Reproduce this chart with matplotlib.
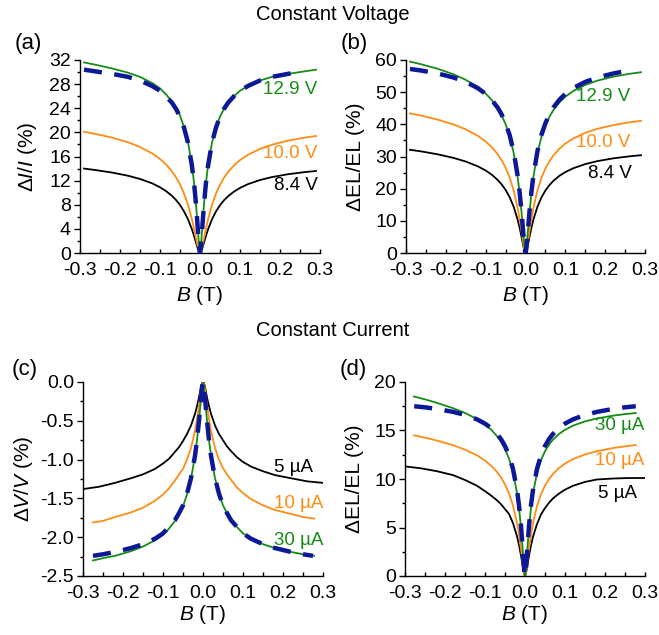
import matplotlib
matplotlib.use("Agg")
import matplotlib.pyplot as plt
from matplotlib.ticker import MultipleLocator, FormatStrFormatter

plt.rcParams['font.family'] = ['Liberation Sans', 'DejaVu Sans']
plt.rcParams['mathtext.fontset'] = 'custom'
plt.rcParams['mathtext.rm'] = 'Liberation Sans'
plt.rcParams['mathtext.it'] = 'Liberation Sans:italic'
plt.rcParams['lines.scale_dashes'] = False

# ---------------- data ----------------
B_top = [-0.29, -0.26, -0.22, -0.18, -0.15, -0.12, -0.1, -0.085, -0.07, -0.06, -0.05, -0.04, -0.03,
         -0.02, -0.015, -0.01, -0.005, -0.002, 0,
         0.002, 0.005, 0.01, 0.015, 0.02, 0.03, 0.04, 0.05, 0.06, 0.07, 0.085, 0.1, 0.12, 0.15,
         0.18, 0.22, 0.26, 0.29]
B_top_fit = [-0.29, -0.26, -0.22, -0.18, -0.15, -0.12, -0.1, -0.085, -0.07, -0.06, -0.05, -0.04, -0.03,
             -0.02, -0.015, -0.01, -0.005, -0.002, 0,
             0.002, 0.005, 0.01, 0.015, 0.02, 0.03, 0.04, 0.05, 0.06, 0.07, 0.085, 0.1, 0.12, 0.15,
             0.18, 0.22, 0.245]

# (a) Delta I / I (%), constant voltage
a_129 = [31.6, 31.2, 30.6, 29.9, 29.2, 28.2, 27.3, 26.3, 25.1, 24.1, 22.8, 20.9, 18.4, 14.4, 11.7, 8.1, 3.6, 0.9, 0,
         0.9, 3.6, 8.1, 11.7, 14.4, 18.3, 20.8, 22.6, 23.9, 24.9, 26.0, 26.9, 27.7, 28.6, 29.2, 29.7, 30.1, 30.4]
a_100 = [20.1, 19.73, 19.14, 18.36, 17.58, 16.53, 15.59, 14.68, 13.52, 12.56, 11.38, 9.85, 7.98, 5.54, 4.07, 2.46,
         0.89, 0.18, 0,
         0.18, 0.89, 2.46, 4.07, 5.54, 7.98, 9.85, 11.31, 12.47, 13.41, 14.53, 15.40, 16.29, 17.26, 17.96, 18.63,
         19.11, 19.40]
a_84 = [14.0, 13.74, 13.34, 12.81, 12.28, 11.56, 10.90, 10.27, 9.47, 8.79, 7.97, 6.90, 5.59, 3.89, 2.85, 1.73,
        0.62, 0.13, 0,
        0.13, 0.62, 1.73, 2.85, 3.89, 5.59, 6.90, 7.93, 8.74, 9.40, 10.18, 10.79, 11.42, 12.10, 12.59, 13.06,
        13.40, 13.60]
a_fit = [30.4, 30.1, 29.7, 29.2, 28.6, 27.7, 26.9, 26.0, 24.9, 23.9, 22.6, 20.8, 18.3, 14.4, 11.7, 8.1, 3.6, 0.9, 0,
         0.9, 3.6, 8.1, 11.7, 14.4, 18.3, 20.8, 22.6, 23.9, 24.9, 26.0, 26.9, 27.7, 28.6, 29.2, 29.7, 30.0]

# (b) Delta EL / EL (%), constant voltage
b_129 = [59.5, 58.62, 57.25, 55.52, 53.84, 51.59, 49.57, 47.61, 45.05, 42.84, 40.04, 36.36, 31.29, 23.91, 18.87,
         12.62, 5.28, 1.24, 0,
         1.24, 5.27, 12.59, 18.81, 23.81, 31.10, 36.07, 39.64, 42.33, 44.42, 46.80, 48.59, 50.37, 52.25, 53.57,
         54.81, 55.69, 56.20]
b_100 = [43.40, 42.65, 41.46, 39.93, 38.44, 36.44, 34.67, 32.94, 30.73, 28.85, 26.51, 23.53, 19.57, 14.17, 10.74,
         6.78, 2.59, 0.57, 0,
         0.57, 2.59, 6.77, 10.71, 14.12, 19.46, 23.35, 26.26, 28.52, 30.32, 32.41, 34.01, 35.62, 37.36, 38.59,
         39.77, 40.61, 41.10]
b_84 = [32.10, 31.55, 30.67, 29.54, 28.44, 26.96, 25.65, 24.37, 22.73, 21.34, 19.62, 17.40, 14.48, 10.49, 7.94,
        5.02, 1.92, 0.42, 0,
        0.42, 1.92, 5.01, 7.92, 10.45, 14.40, 17.27, 19.43, 21.10, 22.43, 23.98, 25.16, 26.35, 27.64, 28.55,
        29.42, 30.04, 30.40]
b_fit = [57.21, 56.69, 55.80, 54.53, 53.19, 51.28, 49.46, 47.64, 45.22, 43.09, 40.35, 36.72, 31.66, 24.24, 19.15,
         12.82, 5.36, 1.26, 0,
         1.26, 5.36, 12.82, 19.15, 24.24, 31.66, 36.72, 40.35, 43.09, 45.22, 47.64, 49.46, 51.28, 53.19, 54.53,
         55.80, 56.39]

# (c) Delta V / V (%), constant current
B_c5 = [-0.3, -0.26, -0.22, -0.18, -0.15, -0.12, -0.1, -0.085, -0.07, -0.06, -0.05, -0.04, -0.03,
        -0.02, -0.015, -0.01, -0.005, -0.002, 0,
        0.002, 0.005, 0.01, 0.015, 0.02, 0.03, 0.04, 0.05, 0.06, 0.07, 0.085, 0.1, 0.12, 0.15,
        0.18, 0.22, 0.26, 0.3]
c_5 = [-1.38, -1.35, -1.30, -1.24, -1.19, -1.12, -1.05, -0.99, -0.90, -0.84, -0.76, -0.67, -0.56, -0.41, -0.31,
       -0.20, -0.06, -0.01, 0,
       -0.01, -0.06, -0.20, -0.31, -0.41, -0.56, -0.67, -0.75, -0.83, -0.89, -0.97, -1.03, -1.09, -1.15, -1.20,
       -1.24, -1.28, -1.30]
B_c = [-0.275, -0.25, -0.22, -0.18, -0.15, -0.12, -0.1, -0.085, -0.07, -0.06, -0.05, -0.04, -0.03,
       -0.02, -0.015, -0.01, -0.005, -0.002, 0,
       0.002, 0.005, 0.01, 0.015, 0.02, 0.03, 0.04, 0.05, 0.06, 0.07, 0.085, 0.1, 0.12, 0.15,
       0.18, 0.22, 0.25, 0.278]
c_10 = [-1.81, -1.79, -1.74, -1.68, -1.62, -1.53, -1.45, -1.37, -1.27, -1.19, -1.12, -1.00, -0.85, -0.63, -0.48,
        -0.30, -0.09, -0.02, 0,
        -0.02, -0.09, -0.30, -0.48, -0.63, -0.85, -1.00, -1.11, -1.19, -1.26, -1.36, -1.43, -1.51, -1.59, -1.65,
        -1.70, -1.74, -1.76]
c_30 = [-2.30, -2.27, -2.24, -2.18, -2.12, -2.04, -1.97, -1.89, -1.79, -1.70, -1.60, -1.45, -1.25, -0.95, -0.75,
        -0.50, -0.21, -0.05, 0,
        -0.05, -0.21, -0.50, -0.75, -0.95, -1.24, -1.44, -1.59, -1.69, -1.78, -1.87, -1.95, -2.02, -2.09, -2.14,
        -2.19, -2.22, -2.24]
B_c_fit = [-0.275, -0.25, -0.22, -0.18, -0.15, -0.12, -0.1, -0.085, -0.07, -0.06, -0.05, -0.04, -0.03,
           -0.02, -0.015, -0.01, -0.005, -0.002, 0,
           0.002, 0.005, 0.01, 0.015, 0.02, 0.03, 0.04, 0.05, 0.06, 0.07, 0.085, 0.1, 0.12, 0.15,
           0.18, 0.22, 0.25, 0.275]
c_fit = [-2.24, -2.22, -2.19, -2.14, -2.09, -2.02, -1.95, -1.87, -1.78, -1.69, -1.59, -1.44, -1.24, -0.95, -0.75,
         -0.50, -0.21, -0.05, 0,
         -0.05, -0.21, -0.50, -0.75, -0.95, -1.24, -1.44, -1.59, -1.69, -1.78, -1.87, -1.95, -2.02, -2.09, -2.14,
         -2.19, -2.22, -2.24]

# (d) Delta EL / EL (%), constant current
B_d5 = B_c5
d_5 = [11.3, 11.1, 10.8, 10.4, 9.9, 9.3, 8.75, 8.3, 7.8, 7.4, 6.9, 6.4, 5.45, 4.1, 3.2, 2.1, 0.86, 0.2, 0,
       0.2, 0.85, 2.08, 3.16, 4.04, 5.35, 6.35, 7.0, 7.55, 8.0, 8.5, 8.9, 9.3, 9.7, 9.95, 10.05, 10.1, 10.1]
B_d = [-0.2775, -0.25, -0.22, -0.18, -0.15, -0.12, -0.1, -0.085, -0.07, -0.06, -0.05, -0.04, -0.03,
       -0.02, -0.015, -0.01, -0.005, -0.002, 0,
       0.002, 0.005, 0.01, 0.015, 0.02, 0.03, 0.04, 0.05, 0.06, 0.07, 0.085, 0.1, 0.12, 0.15,
       0.18, 0.22, 0.25, 0.277]
d_10 = [14.50, 14.26, 13.96, 13.49, 13.03, 12.44, 11.90, 11.38, 10.73, 10.16, 9.44, 8.52, 7.26, 5.47, 4.27, 2.81,
        1.14, 0.26, 0,
        0.26, 1.14, 2.80, 4.25, 5.44, 7.20, 8.43, 9.32, 10.00, 10.53, 11.13, 11.59, 12.05, 12.53, 12.87, 13.19,
        13.37, 13.50]
d_30 = [18.50, 18.21, 17.85, 17.30, 16.81, 16.18, 15.62, 15.10, 14.42, 13.84, 13.09, 12.11, 10.72, 8.58, 7.04,
        4.98, 2.29, 0.59, 0,
        0.59, 2.29, 4.96, 7.00, 8.52, 10.60, 11.94, 12.86, 13.54, 14.06, 14.65, 15.07, 15.50, 15.94, 16.24,
        16.53, 16.69, 16.80]
B_d_fit = [-0.277, -0.25, -0.22, -0.18, -0.15, -0.12, -0.1, -0.085, -0.07, -0.06, -0.05, -0.04, -0.03,
           -0.02, -0.015, -0.01, -0.005, -0.002, 0,
           0.002, 0.005, 0.01, 0.015, 0.02, 0.03, 0.04, 0.05, 0.06, 0.07, 0.085, 0.1, 0.12, 0.15,
           0.18, 0.22, 0.25, 0.277]
d_fit = [17.50, 17.39, 17.22, 16.92, 16.61, 16.15, 15.71, 15.26, 14.65, 14.11, 13.40, 12.44, 11.04, 8.87, 7.29,
         5.17, 2.38, 0.62, 0,
         0.62, 2.38, 5.17, 7.29, 8.87, 11.04, 12.44, 13.40, 14.11, 14.65, 15.26, 15.71, 16.15, 16.61, 16.92,
         17.22, 17.39, 17.50]

labels_top = ["12.9 V", "10.0 V", "8.4 V"]
labels_bot = ["30 µA", "10 µA", "5 µA"]
x_ticks = [-0.3, -0.2, -0.1, 0.0, 0.1, 0.2, 0.3]

GREEN = '#168c16'
ORANGE = '#ff8c14'
BLACK = '#000000'
BLUE = '#0c1898'

W, H = 659, 635
fig = plt.figure(figsize=(W / 100, H / 100), dpi=100)

TICK_FS = 14
LAB_FS = 15
CURVE_FS = 13.5


def make_ax(l, r, t, b):
    return fig.add_axes([l / W, 1 - b / H, (r - l) / W, (b - t) / H])


def style(ax, ylim, ymaj, ymin, yfmt, xlab_y, ylab_x):
    ax.set_xlim(-0.3, 0.3)
    ax.set_ylim(*ylim)
    for s in ['top', 'right']:
        ax.spines[s].set_visible(False)
    for s in ['left', 'bottom']:
        ax.spines[s].set_linewidth(1.0)
    ax.set_xticks(x_ticks)
    ax.xaxis.set_minor_locator(MultipleLocator(0.05))
    ax.xaxis.set_major_formatter(FormatStrFormatter('%.1f'))
    ax.yaxis.set_major_locator(MultipleLocator(ymaj))
    ax.yaxis.set_minor_locator(MultipleLocator(ymin))
    ax.yaxis.set_major_formatter(FormatStrFormatter(yfmt))
    ax.tick_params(axis='x', which='both', direction='in', length=3.0, width=1.0, labelsize=TICK_FS, pad=6.5)
    ax.tick_params(axis='y', which='major', direction='out', length=4.0, width=1.0, labelsize=TICK_FS, pad=2.5)
    ax.tick_params(axis='y', which='minor', direction='out', length=2.5, width=1.0)
    ax.set_xlabel('$B$ (T)', fontsize=LAB_FS)
    ax.xaxis.set_label_coords(0.5, xlab_y)
    ax.yaxis.set_label_coords(ylab_x, 0.5)


def fit(ax, x, y):
    ax.plot(x, y, color=BLUE, lw=3.2, linestyle=(0, (13, 9)), solid_capstyle='butt',
            dash_capstyle='butt', zorder=4)


def curve_label(ax, x, y, s, c):
    ax.text(x, y, s, color=c, transform=ax.transAxes, ha='right', va='center', fontsize=CURVE_FS)


# (a)
axa = make_ax(80, 320, 60, 253)
axa.plot(B_top, a_84, color=BLACK, lw=1.3)
axa.plot(B_top, a_100, color=ORANGE, lw=1.3)
axa.plot(B_top, a_129, color=GREEN, lw=1.3)
fit(axa, B_top_fit, a_fit)
axa.set_ylabel('Δ$I$/$I$ (%)', fontsize=LAB_FS)
style(axa, (0, 32), 4, 2, '%d', -0.16, -0.17)
curve_label(axa, 0.99, 0.845, labels_top[0], GREEN)
curve_label(axa, 0.99, 0.518, labels_top[1], ORANGE)
curve_label(axa, 0.99, 0.352, labels_top[2], BLACK)

# (b)
axb = make_ax(406, 645, 60, 253)
axb.plot(B_top, b_84, color=BLACK, lw=1.3)
axb.plot(B_top, b_100, color=ORANGE, lw=1.3)
axb.plot(B_top, b_129, color=GREEN, lw=1.3)
fit(axb, B_top_fit, b_fit)
axb.set_ylabel('ΔEL/EL (%)', fontsize=LAB_FS)
style(axb, (0, 60), 10, 5, '%d', -0.16, -0.17)
curve_label(axb, 0.94, 0.81, labels_top[0], GREEN)
curve_label(axb, 0.94, 0.575, labels_top[1], ORANGE)
curve_label(axb, 0.946, 0.414, labels_top[2], BLACK)

# (c)
axc = make_ax(83, 323, 382, 576)
axc.plot(B_c5, c_5, color=BLACK, lw=1.3)
axc.plot(B_c, c_10, color=ORANGE, lw=1.3)
axc.plot(B_c, c_30, color=GREEN, lw=1.3)
fit(axc, B_c_fit, c_fit)
axc.set_ylabel('Δ$V$/$V$ (%)', fontsize=LAB_FS)
style(axc, (-2.5, 0), 0.5, 0.25, '%.1f', -0.139, -0.2)
curve_label(axc, 0.958, 0.561, labels_bot[2], BLACK)
curve_label(axc, 1.0, 0.376, labels_bot[1], ORANGE)
curve_label(axc, 1.0, 0.185, labels_bot[0], GREEN)

# (d)
axd = make_ax(405, 645, 382, 576)
axd.plot(B_d5, d_5, color=BLACK, lw=1.3)
axd.plot(B_d, d_10, color=ORANGE, lw=1.3)
axd.plot(B_d, d_30, color=GREEN, lw=1.3)
fit(axd, B_d_fit, d_fit)
axd.set_ylabel('ΔEL/EL (%)', fontsize=LAB_FS)
style(axd, (0, 20), 5, 2.5, '%d', -0.139, -0.17)
curve_label(axd, 0.996, 0.777, labels_bot[0], GREEN)
curve_label(axd, 0.996, 0.597, labels_bot[1], ORANGE)
curve_label(axd, 0.967, 0.427, labels_bot[2], BLACK)

# titles and panel letters
fig.text(333 / W, 1 - 14 / H, 'Constant Voltage', ha='center', va='center', fontsize=14.5)
fig.text(333 / W, 1 - 330 / H, 'Constant Current', ha='center', va='center', fontsize=14.5)
fig.text(15 / W, 1 - 44 / H, '(a)', ha='left', va='center', fontsize=16)
fig.text(341 / W, 1 - 44 / H, '(b)', ha='left', va='center', fontsize=16)
fig.text(12 / W, 1 - 370 / H, '(c)', ha='left', va='center', fontsize=16)
fig.text(340 / W, 1 - 370 / H, '(d)', ha='left', va='center', fontsize=16)

fig.savefig('out.png', dpi=100)
